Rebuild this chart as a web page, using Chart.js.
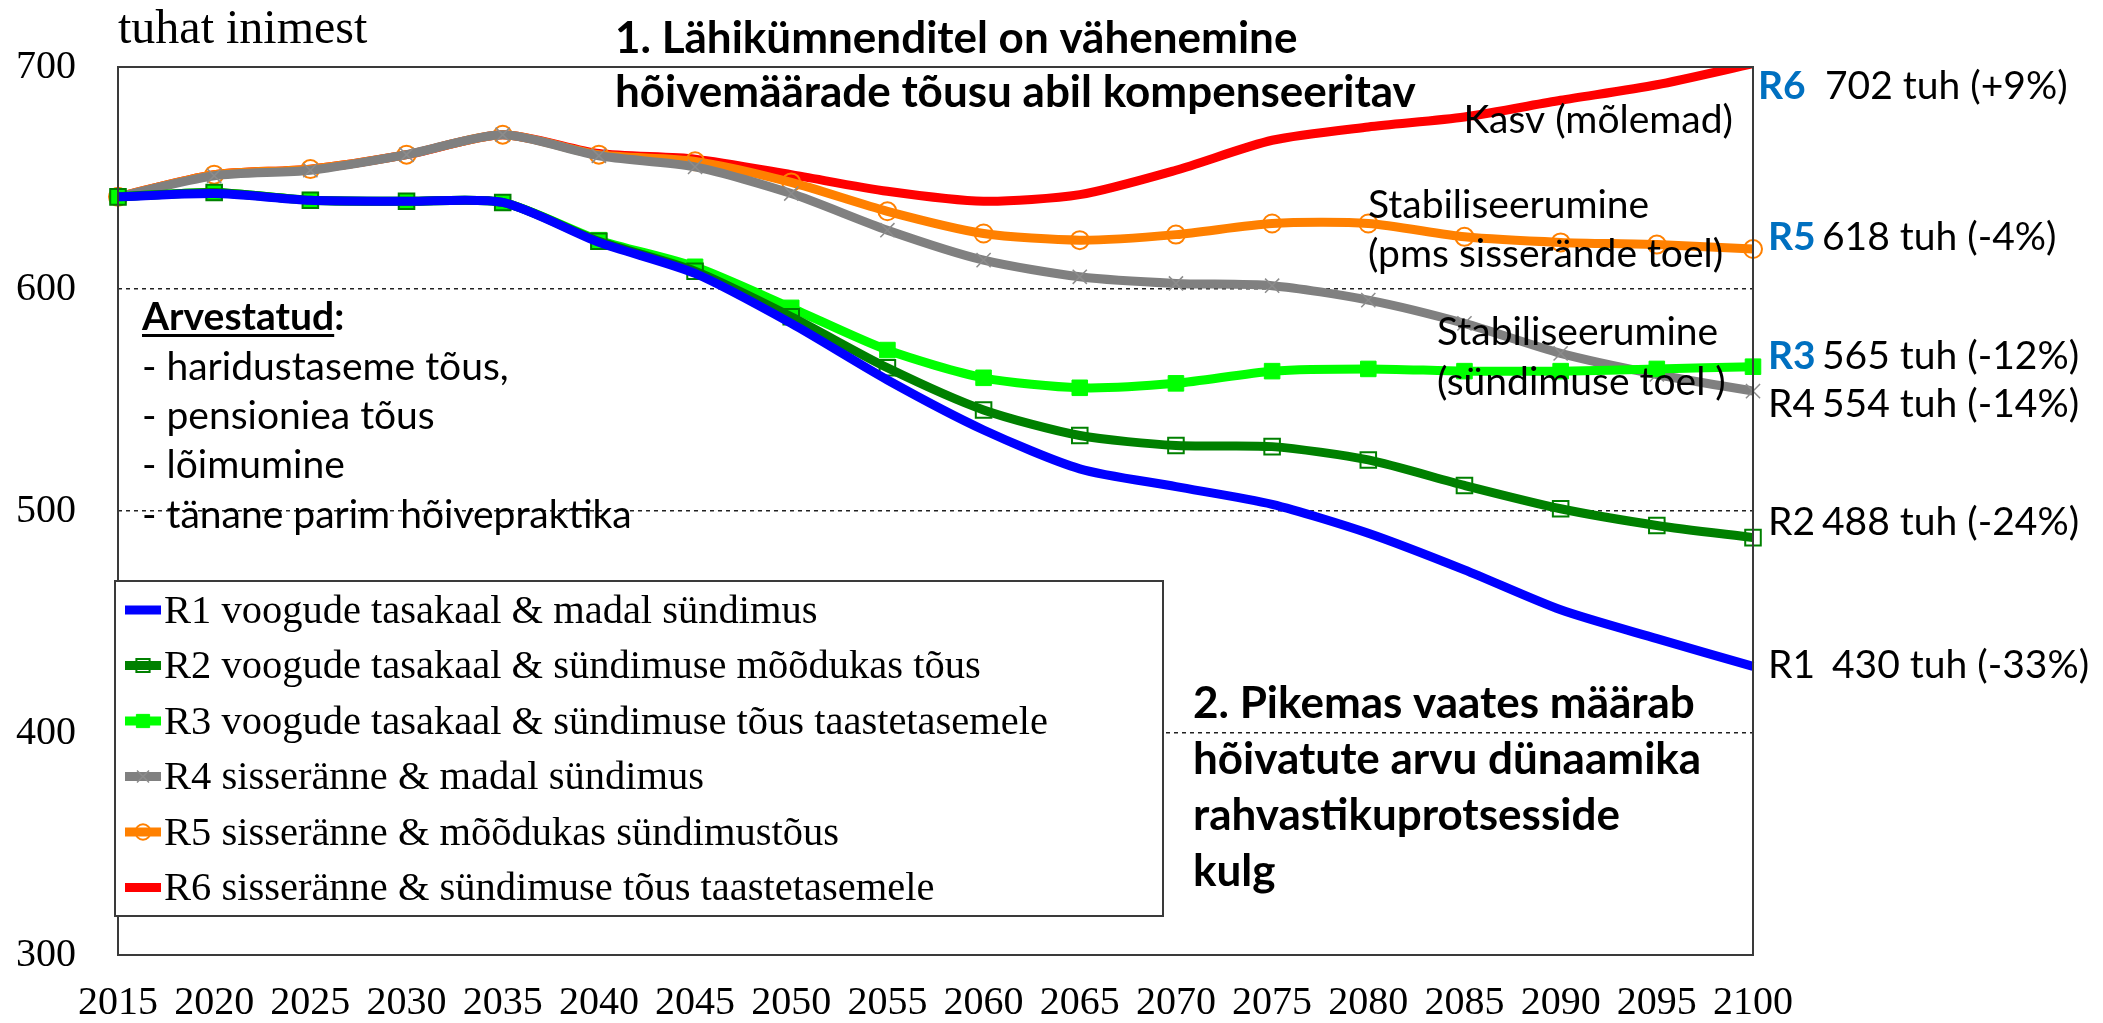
<!DOCTYPE html>
<html>
<head>
<meta charset="utf-8">
<script src="https://cdn.jsdelivr.net/npm/chart.js@4.4.1/dist/chart.umd.min.js"></script>
<style>
  html, body { margin: 0; padding: 0; background: #fff; }
  #wrap { width: 2103px; height: 1023px; }
</style>
</head>
<body>
<div id="wrap"><canvas id="chart" width="2103" height="1023"></canvas></div>
<script>
// years on the x axis
const years = ['2015', '2020', '2025', '2030', '2035', '2040', '2045', '2050', '2055',
  '2060', '2065', '2070', '2075', '2080', '2085', '2090', '2095', '2100'];

// hõivatute arv, tuhat inimest
const r1 = [641.5, 643, 640, 639.5, 639, 621, 607, 584.5, 559, 536.5, 519, 511, 503, 490, 473.5, 455.5, 442.5, 430];
const r2 = [641.5, 643.5, 640, 639.5, 639, 621.5, 608, 587.5, 564.5, 545.5, 534, 529.5, 529, 523, 511.5, 501, 493.5, 488];
const r3 = [641.5, 643.5, 640, 639.5, 639, 622, 610, 591.5, 572.5, 560, 555.5, 557.5, 563, 564, 563, 563, 564, 565];
const r4 = [641.5, 651, 653.5, 660.5, 669.5, 660, 655, 643, 626.5, 613, 605.5, 602.5, 601.5, 595, 584.5, 571, 561.5, 554];
const r5 = [641.5, 651.5, 654, 660.5, 669.5, 660.5, 657.5, 648, 635, 625, 622, 624.5, 629.5, 629.5, 623.5, 621, 620, 618];
const r6 = [641.5, 651.5, 654, 660.5, 669.5, 661, 658.5, 651.5, 644, 639.5, 642.5, 653.5, 667, 673, 677.5, 685, 692, 701.5];

const seriesNames = [
  'R1 voogude tasakaal & madal sündimus',
  'R2 voogude tasakaal & sündimuse mõõdukas tõus',
  'R3 voogude tasakaal & sündimuse tõus taastetasemele',
  'R4 sisseränne & madal sündimus',
  'R5 sisseränne & mõõdukas sündimustõus',
  'R6 sisseränne & sündimuse tõus taastetasemele'
];

const yMin = 300;
const yMax = 700;

const SERIF = '"Liberation Serif", "Times New Roman", serif';
const SANS = 'Lato, "Open Sans", sans-serif';

function drawMarker(ctx, style, r, x, y, fill, stroke, lw) {
  ctx.save();
  ctx.lineWidth = lw;
  ctx.strokeStyle = stroke;
  ctx.fillStyle = fill;
  ctx.beginPath();
  if (style === 'rect') {
    const s = r * Math.SQRT1_2;
    ctx.rect(x - s, y - s, 2 * s, 2 * s);
    ctx.fill();
    ctx.stroke();
  } else if (style === 'circle') {
    ctx.arc(x, y, r, 0, Math.PI * 2);
    ctx.fill();
    ctx.stroke();
  } else if (style === 'crossRot') {
    const s = r * Math.SQRT1_2;
    ctx.moveTo(x - s, y - s); ctx.lineTo(x + s, y + s);
    ctx.moveTo(x - s, y + s); ctx.lineTo(x + s, y - s);
    ctx.stroke();
  }
  ctx.restore();
}

function txt(ctx, s, x, y, font, color, align) {
  ctx.font = font;
  ctx.fillStyle = color || '#000';
  ctx.textAlign = align || 'left';
  ctx.textBaseline = 'alphabetic';
  ctx.fillText(s, x, y);
  return ctx.measureText(s).width;
}

// plot frame
const framePlugin = {
  id: 'frame',
  afterDatasetsDraw(chart) {
    const { ctx, chartArea: a } = chart;
    ctx.save();
    ctx.strokeStyle = '#3a3a3a';
    ctx.lineWidth = 2;
    ctx.strokeRect(a.left, a.top, a.right - a.left, a.bottom - a.top);
    ctx.restore();
  }
};

// legend box drawn inside the plot, from the dataset settings
const legendBoxPlugin = {
  id: 'legendBox',
  afterDraw(chart) {
    const ctx = chart.ctx;
    const left = 115, top = 581, w = 1048, h = 335;
    ctx.save();
    ctx.fillStyle = '#fff';
    ctx.fillRect(left, top, w, h);
    ctx.strokeStyle = '#3a3a3a';
    ctx.lineWidth = 2;
    ctx.strokeRect(left, top, w, h);
    chart.data.datasets.forEach((ds, i) => {
      const y = 610 + i * 55.5;
      ctx.strokeStyle = ds.borderColor;
      ctx.lineWidth = 9;
      ctx.beginPath();
      ctx.moveTo(125, y);
      ctx.lineTo(161, y);
      ctx.stroke();
      if (ds.pointRadius > 0) {
        drawMarker(ctx, ds.pointStyle, ds.pointRadius * 0.85, 143, y,
          ds.pointBackgroundColor, ds.pointBorderColor, ds.pointBorderWidth);
      }
      ctx.font = '40.5px ' + SERIF;
      ctx.fillStyle = '#000';
      ctx.textAlign = 'left';
      ctx.textBaseline = 'middle';
      ctx.fillText(ds.label, 164, y + 2);
    });
    ctx.restore();
  }
};

// texts around and inside the plot
const notesPlugin = {
  id: 'notes',
  afterDraw(chart) {
    const ctx = chart.ctx;
    ctx.save();
    txt(ctx, 'tuhat inimest', 118, 43, '48px ' + SERIF);

    const bold = 'bold 44px ' + SANS;
    txt(ctx, '1. Lähikümnenditel on vähenemine', 615, 53, bold);
    txt(ctx, 'hõivemäärade tõusu abil kompenseeritav', 615, 107, bold);

    const reg = '39px ' + SANS;
    txt(ctx, 'Kasv (mõlemad)', 1733, 133, reg, '#000', 'right');
    txt(ctx, 'Stabiliseerumine', 1368, 218, reg);
    txt(ctx, '(pms sisserände toel)', 1368, 267, reg);
    txt(ctx, 'Stabiliseerumine', 1437, 345, reg);
    txt(ctx, '(sündimuse toel )', 1437, 395, reg);

    // Arvestatud block
    const hb = 'bold 39px ' + SANS;
    const wA = txt(ctx, 'Arvestatud', 142, 330, hb);
    txt(ctx, ':', 142 + wA, 330, hb);
    ctx.fillStyle = '#000';
    ctx.fillRect(142, 334, wA, 3);
    const items = ['- haridustaseme tõus,', '- pensioniea tõus', '- lõimumine', '- tänane parim hõivepraktika'];
    items.forEach((s, i) => txt(ctx, s, 142, 380 + i * 49.2, reg));

    // long term note
    const lines2 = ['2. Pikemas vaates määrab', 'hõivatute arvu dünaamika', 'rahvastikuprotsesside', 'kulg'];
    lines2.forEach((s, i) => txt(ctx, s, 1193, 718 + i * 56, bold));

    // end-of-line labels
    const blue = '#0070C0';
    const ends = [
      { p: 'R6', rest: '702 tuh (+9%)', y: 99, x: 1758, rx: 1825, hl: true },
      { p: 'R5', rest: '618 tuh (-4%)', y: 250, x: 1768, rx: 1822, hl: true },
      { p: 'R3', rest: '565 tuh (-12%)', y: 369, x: 1768, rx: 1822, hl: true },
      { p: 'R4', rest: '554 tuh (-14%)', y: 417, x: 1768, rx: 1822, hl: false },
      { p: 'R2', rest: '488 tuh (-24%)', y: 535, x: 1768, rx: 1822, hl: false },
      { p: 'R1', rest: '430 tuh (-33%)', y: 678, x: 1768, rx: 1832, hl: false }
    ];
    ends.forEach(e => {
      txt(ctx, e.p, e.x, e.y, e.hl ? hb : reg, e.hl ? blue : '#000');
      txt(ctx, e.rest, e.rx, e.y, reg);
    });
    ctx.restore();
  }
};

const lineBase = { borderWidth: 9, tension: 0.25, fill: false };

new Chart(document.getElementById('chart').getContext('2d'), {
  type: 'line',
  data: {
    labels: years,
    datasets: [
      Object.assign({}, lineBase, { label: seriesNames[0], data: r1, borderColor: '#0000ff',
        pointRadius: 0, clip: false }),
      Object.assign({}, lineBase, { label: seriesNames[1], data: r2, borderColor: '#008000',
        pointStyle: 'rect', pointRadius: 11, pointBorderColor: '#008000',
        pointBackgroundColor: 'rgba(0,0,0,0)', pointBorderWidth: 2, clip: false }),
      Object.assign({}, lineBase, { label: seriesNames[2], data: r3, borderColor: '#00ff00',
        pointStyle: 'rect', pointRadius: 11, pointBorderColor: '#00ff00',
        pointBackgroundColor: '#00ff00', pointBorderWidth: 1, clip: false }),
      Object.assign({}, lineBase, { label: seriesNames[3], data: r4, borderColor: '#808080',
        pointStyle: 'crossRot', pointRadius: 10, pointBorderColor: '#8c8c8c',
        pointBackgroundColor: '#8c8c8c', pointBorderWidth: 1.5, clip: false }),
      Object.assign({}, lineBase, { label: seriesNames[4], data: r5, borderColor: '#ff8000',
        pointStyle: 'circle', pointRadius: 9, pointBorderColor: '#ff8000',
        pointBackgroundColor: 'rgba(0,0,0,0)', pointBorderWidth: 2, clip: false }),
      Object.assign({}, lineBase, { label: seriesNames[5], data: r6, borderColor: '#ff0000',
        pointRadius: 0, clip: { left: 10, top: 0, right: 0, bottom: 10 } })
    ]
  },
  options: {
    responsive: false,
    animation: false,
    devicePixelRatio: 1,
    layout: { padding: { left: 0, top: 67, right: 350, bottom: 0 } },
    plugins: {
      legend: { display: false },
      tooltip: { enabled: false }
    },
    scales: {
      x: {
        grid: { display: false, drawTicks: false },
        border: { display: false },
        ticks: {
          color: '#000',
          font: { family: SERIF, size: 40 },
          padding: 24,
          maxRotation: 0,
          autoSkip: false
        },
        afterFit(s) { s.height = 68; }
      },
      y: {
        min: yMin,
        max: yMax,
        grid: {
          drawTicks: false,
          lineWidth: 1.5,
          color: c => (c.tick && (c.tick.value === yMin || c.tick.value === yMax)) ? 'rgba(0,0,0,0)' : '#222'
        },
        border: { display: false, dash: [4, 4] },
        ticks: {
          stepSize: 100,
          color: '#000',
          font: { family: SERIF, size: 40 },
          padding: 42
        },
        afterFit(s) { s.width = 118; }
      }
    }
  },
  plugins: [framePlugin, legendBoxPlugin, notesPlugin]
});
</script>
</body>
</html>
